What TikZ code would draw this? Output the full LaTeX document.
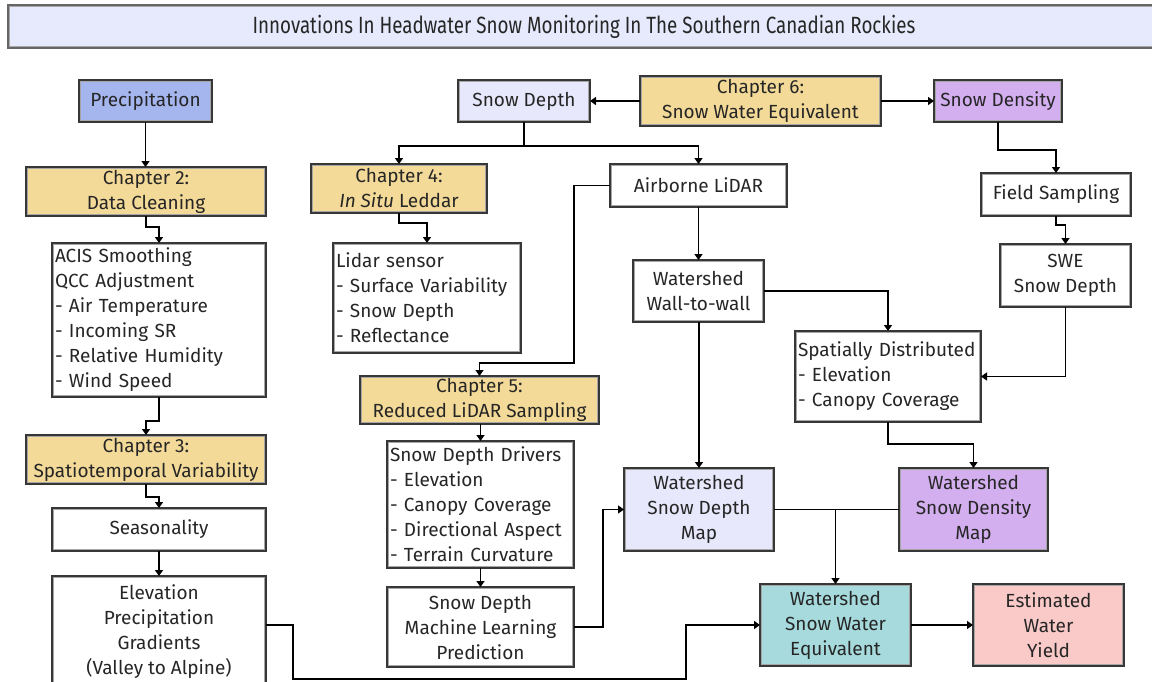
\documentclass[tikz,border=0pt]{standalone}
\usepackage{fontspec}
\setmainfont{Fira Sans}
\newfontfamily\titlefont[FakeStretch=0.8]{Fira Sans}
\usetikzlibrary{arrows.meta}
\definecolor{precipblue}{RGB}{165,182,238}
\definecolor{chapfill}{RGB}{243,218,152}
\definecolor{lavfill}{RGB}{232,232,252}
\definecolor{purpfill}{RGB}{212,175,240}
\definecolor{tealfill}{RGB}{166,218,220}
\definecolor{pinkfill}{RGB}{249,202,200}
\definecolor{titlefill}{RGB}{230,234,252}
\definecolor{edge}{RGB}{55,55,55}
\newcommand\bx[7]{\node[box,#6,minimum width={#4-#2},minimum height={#5-#3}] (#1) at ({(#2+#4)/2},{(#3+#5)/2}) {#7};}
\begin{document}
\begin{tikzpicture}[x=1pt,y=-1pt,
  box/.style={draw=edge,line width=1.6pt,fill=white,inner xsep=3pt,inner ysep=0pt,outer sep=0pt,
    font=\fontsize{19}{25}\selectfont,align=center,text=black!85,
    path picture={\draw[black!35,line width=3.5pt] (path picture bounding box.south west) rectangle (path picture bounding box.north east);}},
  chap/.style={fill=chapfill},
  lbox/.style={align=left},
  arr/.style={line width=1.9pt,-{Triangle[length=6pt,width=8pt]}},
  ln/.style={line width=1.9pt}]
\useasboundingbox (0,0) rectangle (1152,681);
\fill[white] (0,0) rectangle (1152,681);
% title
\bx{title}{8}{5}{1160}{48}{fill=titlefill,draw=black!60,font=\titlefont\fontsize{23.5}{26}\selectfont}{Innovations In Headwater Snow Monitoring In The Southern Canadian Rockies}
% left column
\bx{precip}{79}{80}{212}{122}{fill=precipblue}{Precipitation}
\bx{ch2}{26}{167}{266}{216}{chap}{Chapter 2:\\Data Cleaning}
\bx{acis}{52}{243}{266}{397}{lbox,text width=208pt}{ACIS Smoothing\\QCC Adjustment\\- Air Temperature\\- Incoming SR\\- Relative Humidity\\- Wind Speed}
\bx{ch3}{26}{435}{266}{484}{chap}{Chapter 3:\\Spatiotemporal Variability}
\bx{season}{52}{508}{266}{551}{}{Seasonality}
\bx{elev}{52}{576}{266}{706}{}{Elevation\\Precipitation\\Gradients\\(Valley to Alpine)\\[-2pt]}
% middle
\bx{sdepth}{458}{80}{590}{122}{fill=lavfill}{Snow Depth}
\bx{ch4}{311}{164}{487}{213}{chap}{Chapter 4:\\\textit{In Situ} Leddar}
\bx{lidar}{333}{243}{521}{353}{lbox,text width=182pt}{Lidar sensor\\- Surface Variability\\- Snow Depth\\- Reflectance}
\bx{ch5}{360}{376}{599}{424}{chap}{Chapter 5:\\Reduced LiDAR Sampling}
\bx{drivers}{387}{441}{574}{568}{lbox,text width=181pt}{Snow Depth Drivers\\- Elevation\\- Canopy Coverage\\- Directional Aspect\\- Terrain Curvature}
\bx{ml}{387}{587}{574}{667}{}{Snow Depth\\Machine Learning\\Prediction}
% right
\bx{ch6}{640}{76}{881}{126}{chap}{Chapter 6:\\Snow Water Equivalent}
\bx{sdens}{934}{80}{1062}{122}{fill=purpfill}{Snow Density}
\bx{air}{610}{164}{787}{207}{}{Airborne LiDAR}
\bx{field}{981}{173}{1131}{216}{}{Field Sampling}
\bx{swesd}{1000}{244}{1131}{307}{}{SWE\\Snow Depth}
\bx{w2w}{633}{260}{764}{322}{}{Watershed\\Wall-to-wall}
\bx{spatial}{795}{331}{981}{422}{lbox,text width=180pt}{Spatially Distributed\\- Elevation\\- Canopy Coverage}
\bx{wsdm}{624}{468}{774}{551}{fill=lavfill}{Watershed\\Snow Depth\\Map}
\bx{wsdensm}{899}{468}{1048}{551}{fill=purpfill}{Watershed\\Snow Density\\Map}
\bx{wswe}{760}{584}{911}{666}{fill=tealfill}{Watershed\\Snow Water\\Equivalent}
\bx{yield}{973}{584}{1124}{666}{fill=pinkfill}{Estimated\\Water\\Yield}
% connectors
\coordinate (fork) at (524,146);
\coordinate (c5) at (574,363);
\coordinate (m1) at (603,627);
\coordinate (b1) at (293,679);
\coordinate (b2) at (686,679);
\draw[arr] (precip.south) -- (precip.south |- ch2.north);
\draw[arr] (ch2.south) -- ++(0,11) -| (acis.north);
\draw[arr] (acis.south) -- ++(0,24) -| (ch3.north);
\draw[arr] (ch3.south) -- ++(0,13) -| (season.north);
\draw[arr] (season.south) -- (elev.north);
\draw[arr] (elev.east |- wswe.west) -| (b1) -- (b2) |- (wswe.west);
\draw[ln] (sdepth.south) -- (fork);
\draw[arr] (fork) -| (ch4.north);
\draw[arr] (fork) -| (air.north);
\draw[arr] (ch4.south) -- ++(0,10) -| (lidar.north);
\draw[arr] (air.west) -| (c5) -| (ch5.north);
\draw[arr] (drivers.north |- ch5.south) -- (drivers.north);
\draw[arr] (drivers.south) -- (ml.north);
\draw[arr] (ml.east) -- (m1) |- (wsdm.west);
\draw[arr] (ch6.west |- sdepth.east) -- (sdepth.east);
\draw[arr] (ch6.east |- sdens.west) -- (sdens.west);
\draw[arr] (sdens.south) -- ++(0,28) -| (field.north);
\draw[arr] (field.south) -- ++(0,9) -| (swesd.north);
\draw[arr] (swesd.south) |- (spatial.east);
\draw[arr] (air.south) -- (w2w.north);
\draw[arr] (w2w.east) -| (spatial.north);
\draw[arr] (wsdm.north |- w2w.south) -- (wsdm.north);
\draw[arr] (spatial.south) -- ++(0,22) -| (wsdensm.north);
\coordinate (j) at (wswe.north |- wsdm.east);
\draw[ln] (wsdm.east) -- (wsdensm.west);
\draw[arr] (j) -- (wswe.north);
\draw[arr] (wswe.east) -- (yield.west);
\end{tikzpicture}
\end{document}
